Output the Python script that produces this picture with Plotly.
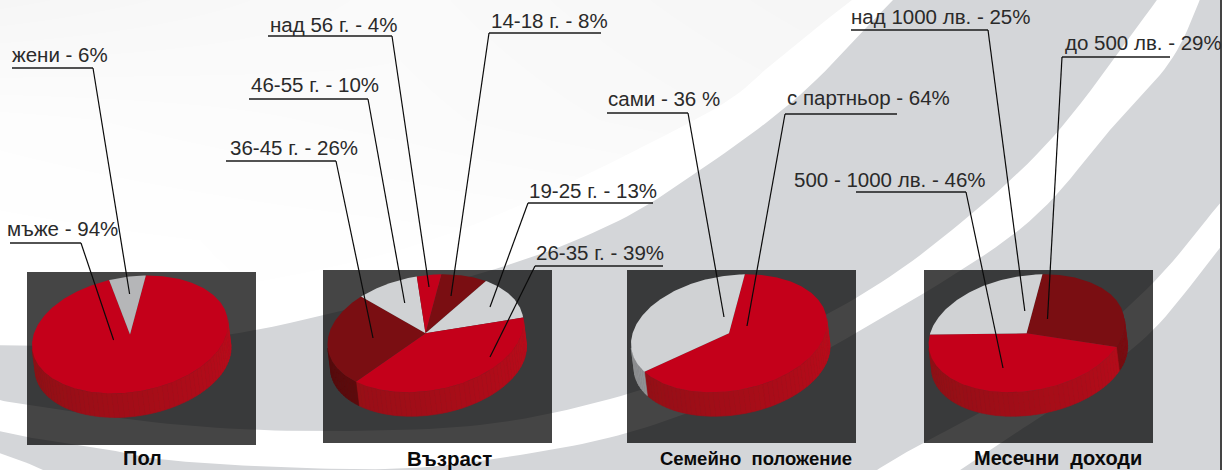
import numpy as np
import plotly.graph_objects as go

# ---------- data ----------
pie_gender_labels = ["мъже - 94%", "жени - 6%"]
pie_gender_values = [94, 6]
pie_age_labels = ["14-18 г. - 8%", "19-25 г. - 13%", "26-35 г. - 39%", "36-45 г. - 26%", "46-55 г. - 10%", "над 56 г. - 4%"]
pie_age_values = [8, 13, 39, 26, 10, 4]
pie_family_labels = ["с партньор - 64%", "сами - 36 %"]
pie_family_values = [64, 36]
pie_income_labels = ["до 500 лв. - 29%", "500 - 1000 лв. - 46%", "над 1000 лв. - 25%"]
pie_income_values = [29, 46, 25]
titles = ["Пол", "Възраст", "Семейно  положение", "Месечни  доходи"]

# ---------- styling / layout ----------
W, H = 1222, 470
RED, DARK, LIGHT, MID = "#C4001A", "#7A0E12", "#D0D2D4", "#B5B6B8"
BG_GRAY = "#D4D6D9"
START = 80.7
RX, RY, SKEW = 98.0, 58.0, 10.6
WALL_DX, WALL_DY = 3.0, 24.0
pies = [
    dict(values=pie_gender_values, colors=[RED, MID], c=(130, 334.5), panel=(27, 256, 272, 445)),
    dict(values=pie_age_values, colors=[DARK, LIGHT, RED, DARK, LIGHT, RED], c=(425.5, 333.3), panel=(323, 552, 270, 443)),
    dict(values=pie_family_values, colors=[RED, LIGHT], c=(729, 333.3), panel=(627, 856, 270, 443)),
    dict(values=pie_income_values, colors=[DARK, RED, LIGHT], c=(1026.6, 333.3), panel=(924, 1153, 270, 443)),
]
title_pos = [(142, 458), (449, 458), (756, 458), (1058, 458)]
title_sizes = [20, 20.5, 18.5, 20]
# text: label, text x, text y, underline x0, x1, bend x, underline y, end x, end y
callouts = [
    (pie_gender_labels[1], 10, 54, 12, 93, 93, 68, 129.6, 294),
    (pie_gender_labels[0], 5, 228, 10, 81, 81, 243, 113.6, 340),
    (pie_age_labels[5], 268, 24, 268, 392, 392, 36, 429, 287),
    (pie_age_labels[4], 249, 84, 249, 368, 368, 99, 404.7, 303),
    (pie_age_labels[3], 228, 147, 226, 336, 336, 161, 373, 338),
    (pie_age_labels[0], 489, 20, 489, 601, 489, 33, 451, 296),
    (pie_age_labels[1], 527, 190, 528, 653, 528, 203, 490, 307),
    (pie_age_labels[2], 534, 252, 535, 663, 535, 266, 490, 357),
    (pie_family_labels[1], 606, 98, 607, 688, 688, 113, 724, 317),
    (pie_family_labels[0], 785, 97, 785, 897, 785, 114, 747, 326),
    (pie_income_labels[2], 849, 16, 851, 988, 988, 30, 1024.8, 311),
    (pie_income_labels[0], 1063, 42, 1062, 1170, 1062, 57, 1047.5, 319),
    (pie_income_labels[1], 792, 179, 856, 966, 966, 192, 1003, 368),
]
# soft background gradient of the upper-left area
bg_x = [0, 400, 800, 1222]
bg_y = [0, 120, 240, 470]
bg_z = [[246, 250, 246, 246], [253, 251, 248, 248], [255, 254, 253, 253], [255, 255, 255, 255]]

light_edge = [(900, -30), (852, 0), (780, 57), (700, 117), (460, 230), (257, 282), (100, 298), (-20, 300)]
gray_top = [(930, -30), (893, 0), (800, 95), (700, 170), (610, 225), (482, 273), (256, 330), (100, 345), (-20, 345)]
band_b_upper = [(1175, -25), (1157, 0), (1053, 137), (952, 230), (856, 298), (740, 355), (610, 399), (480, 425), (323, 431), (180, 425), (27, 405), (-20, 395)]
band_b_lower = [(-20, 427), (27, 437), (100, 448), (167, 460), (300, 468), (412, 468), (520, 455), (627, 433), (740, 392), (856, 333), (1019, 230), (1110, 130), (1173, 57), (1210, -25)]
band_c_upper = [(1240, 180), (1220, 203), (1153, 283), (1060, 365), (980, 413), (923, 443), (880, 468), (850, 490)]
band_c_lower = [(930, 490), (1000, 443), (1070, 397), (1153, 330), (1220, 247), (1240, 222)]
corner_edge = [(-20, 446), (0, 453), (43, 470), (70, 490)]


def smooth(pts, n=12):
    p = np.array(pts, float)
    p = np.vstack([2 * p[0] - p[1], p, 2 * p[-1] - p[-2]])
    out = []
    for i in range(1, len(p) - 2):
        for u in np.linspace(0, 1, n, endpoint=False):
            a, b, c, d = p[i - 1], p[i], p[i + 1], p[i + 2]
            out.append(0.5 * (2 * b + (c - a) * u + (2 * a - 5 * b + 4 * c - d) * u ** 2 + (3 * b - a - 3 * c + d) * u ** 3))
    out.append(p[-2])
    return np.array(out)


fig = go.Figure()


def poly(xy, color):
    xy = np.array(xy)
    fig.add_trace(go.Scatter(x=xy[:, 0], y=xy[:, 1], mode="lines", fill="toself", fillcolor=color,
                             line=dict(width=0), hoverinfo="skip", showlegend=False))


fig.add_trace(go.Heatmap(x=bg_x, y=bg_y, z=bg_z, zmin=230, zmax=255, zsmooth="best", showscale=False, hoverinfo="skip",
                         colorscale=[[0, "rgb(230,230,230)"], [1, "rgb(255,255,255)"]]))
poly(np.vstack([smooth(light_edge), [(-20, 500), (1300, 500), (1300, -30)]]), "#FFFFFF")
poly(np.vstack([smooth(gray_top), [(-20, 500), (1300, 500), (1300, -30)]]), BG_GRAY)
poly(np.vstack([smooth(band_b_upper), smooth(band_b_lower)]), "#FFFFFF")
poly(np.vstack([smooth(band_c_upper), smooth(band_c_lower)]), "#FFFFFF")
poly(np.vstack([smooth(corner_edge), [(-20, 490)]]), "#FFFFFF")

for p in pies:
    x0, x1, y0, y1 = p["panel"]
    poly([(x0, y0), (x1, y0), (x1, y1), (x0, y1), (x0, y0)], "rgba(0,0,0,0.73)")


def rim(cx, cy, deg):
    t = np.radians(deg)
    return np.column_stack([cx + RX * np.cos(t), cy - RY * np.sin(t) - SKEW * np.cos(t)])


def lerp(a, b, f):
    return "rgb(%d,%d,%d)" % tuple(int(round(a[i] + (b[i] - a[i]) * f)) for i in range(3))


WALL = {RED: ((140, 16, 21), (188, 10, 27)), DARK: ((84, 10, 11), (125, 11, 16)),
        LIGHT: ((140, 142, 144), (172, 174, 176)), MID: ((140, 142, 144), (172, 174, 176))}
VIS0, VIS1 = -175.8, 4.2  # visible part of the wall, degrees

for p in pies:
    cx, cy = p["c"]
    ends = START - np.cumsum([0] + list(np.array(p["values"]) * 3.6))
    # walls
    for a, b, col in zip(ends[:-1], ends[1:], p["colors"]):
        for shift in (0, -360, 360):
            hi, lo = min(a + shift, VIS1), max(b + shift, VIS0)
            if hi <= lo:
                continue
            steps = max(1, int(np.ceil((hi - lo) / 3)))
            edges = np.linspace(lo, hi, steps + 1)
            for e0, e1 in zip(edges[:-1], edges[1:]):
                arc = rim(cx, cy, np.linspace(e0, e1, 4))
                low = arc[::-1] + [WALL_DX, WALL_DY]
                xy = np.vstack([arc, low, arc[:1]])
                f = ((e0 + e1) / 2 - VIS0) / (VIS1 - VIS0)
                c = lerp(*WALL[col], f)
                fig.add_trace(go.Scatter(x=xy[:, 0], y=xy[:, 1], mode="lines", fill="toself", fillcolor=c,
                                         line=dict(width=0.6, color=c), hoverinfo="skip", showlegend=False))
    # top faces
    for a, b, col in zip(ends[:-1], ends[1:], p["colors"]):
        arc = rim(cx, cy, np.linspace(a, b, max(3, int(abs(a - b)))))
        xy = np.vstack([[(cx, cy)], arc, [(cx, cy)]])
        poly(xy, col)

# callouts
for lab, tx, ty, ux0, ux1, bx, uy, ex, ey in callouts:
    fig.add_trace(go.Scatter(x=[ux0, ux1], y=[uy, uy], mode="lines", line=dict(color="#1a1a1a", width=1.3),
                             hoverinfo="skip", showlegend=False))
    fig.add_trace(go.Scatter(x=[bx, ex], y=[uy, ey], mode="lines", line=dict(color="#0a0a0a", width=1.2),
                             hoverinfo="skip", showlegend=False))
    fig.add_annotation(x=tx, y=ty, text=lab, showarrow=False, xanchor="left", yanchor="middle", xref="x", yref="y",
                       font=dict(family="Liberation Sans", size=20.5, color="#2a2a2a"))

for t, (x, y), s in zip(titles, title_pos, title_sizes):
    fig.add_annotation(x=x, y=y, text="<b>%s</b>" % t.replace("  ", "&nbsp;&nbsp;"), showarrow=False, xanchor="center", yanchor="middle",
                       xref="x", yref="y", font=dict(family="Liberation Sans", size=s, color="#0a0a0a"))

fig.add_shape(type="line", x0=1221, x1=1221, y0=0, y1=H, xref="x", yref="y", line=dict(color="#444444", width=2))

fig.update_layout(width=W, height=H, autosize=False, margin=dict(l=0, r=0, t=0, b=0), showlegend=False,
                  paper_bgcolor="white", plot_bgcolor="white",
                  xaxis=dict(range=[0, W], visible=False, fixedrange=True),
                  yaxis=dict(range=[H, 0], visible=False, fixedrange=True))
fig.write_html("out.html", config=dict(displayModeBar=False),
               post_script="document.body.style.margin='0';document.body.style.overflow='hidden';")
